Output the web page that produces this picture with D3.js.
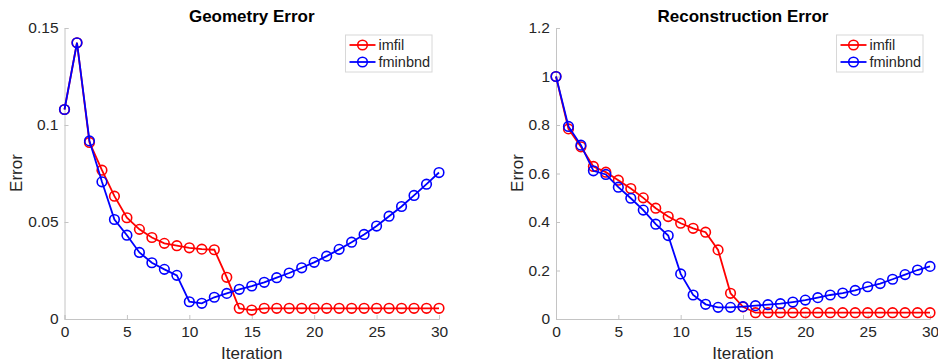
<!DOCTYPE html>
<html><head><meta charset="utf-8">
<script src="https://cdn.jsdelivr.net/npm/d3@7"></script>
<style>body{margin:0;background:#fff}svg{display:block}text{font-family:"Liberation Sans",Arial,Helvetica,sans-serif}</style>
</head><body>
<svg id="c" width="938" height="362"></svg>
<script>
const iterations = d3.range(0, 31);
const geomImfil = [0.108,0.1424,0.091,0.0767,0.0633,0.0522,0.0462,0.042,0.039,0.0378,0.0367,0.036,0.0357,0.0215,0.0055,0.0046,0.0055,0.0055,0.0055,0.0055,0.0055,0.0055,0.0055,0.0055,0.0055,0.0055,0.0055,0.0055,0.0055,0.0055,0.0055];
const geomFminbnd = [0.108,0.1424,0.0918,0.0707,0.0513,0.0432,0.0343,0.029,0.0256,0.0225,0.0089,0.0081,0.0112,0.0132,0.0153,0.017,0.0189,0.0213,0.0237,0.0264,0.0292,0.0324,0.0359,0.0396,0.0436,0.0479,0.053,0.058,0.0637,0.0695,0.0755];
const reconImfil = [1.0,0.784,0.71,0.629,0.6055,0.5725,0.538,0.4995,0.457,0.4225,0.395,0.374,0.358,0.285,0.106,0.05,0.026,0.026,0.026,0.026,0.026,0.026,0.026,0.026,0.026,0.026,0.026,0.026,0.026,0.026,0.026];
const reconFminbnd = [1.0,0.794,0.717,0.611,0.596,0.5436,0.498,0.449,0.391,0.344,0.186,0.099,0.0605,0.048,0.048,0.051,0.055,0.059,0.063,0.07,0.078,0.088,0.099,0.107,0.118,0.133,0.146,0.164,0.183,0.202,0.217];
const xTicks = [0,5,10,15,20,25,30];
const geomTicks = [0,0.05,0.1,0.15];
const reconTicks = [0,0.2,0.4,0.6,0.8,1,1.2];
const seriesNames = ["imfil","fminbnd"];
const seriesColors = ["#ff0000","#0000ff"];

const svg = d3.select("#c");
const axisColor = "#c4c4c4", textColor = "#262626";

function panel(o) {
  const g = svg.append("g");
  const x = d3.scaleLinear().domain([0,30]).range([o.x0, o.x1]);
  const y = d3.scaleLinear().domain([0, o.ymax]).range([319, 28]);
  const xa = d3.axisBottom(x).tickValues(xTicks).tickSize(-4).tickPadding(6).tickFormat(d3.format("d"));
  const ya = d3.axisLeft(y).tickValues(o.ticks).tickSize(-4).tickPadding(6).tickFormat(d => d === 0 ? "0" : String(+d.toFixed(2)));
  const gx = g.append("g").attr("transform", `translate(0,319)`).call(xa);
  const gy = g.append("g").attr("transform", `translate(${o.x0},0)`).call(ya);
  [gx, gy].forEach(a => {
    a.select(".domain").attr("stroke", axisColor).attr("stroke-width", 1);
    a.selectAll(".tick line").attr("stroke", axisColor);
    a.selectAll(".tick text").attr("fill", textColor).attr("font-size", 15.5);
  });
  gx.selectAll(".tick text").attr("dy", "0.8em");
  const cx = (o.x0 + o.x1) / 2;
  g.append("text").attr("x", cx).attr("y", 22).attr("text-anchor","middle").attr("font-weight","bold").attr("font-size",17).attr("fill","#000").text(o.title);
  g.append("text").attr("x", cx).attr("y", 359).attr("text-anchor","middle").attr("font-size",17).attr("fill",textColor).text("Iteration");
  g.append("text").attr("transform", `translate(${o.ylabX},173) rotate(-90)`).attr("text-anchor","middle").attr("font-size",17).attr("fill",textColor).text("Error");
  const line = d3.line().x((d,i) => x(iterations[i])).y(d => y(d));
  o.series.forEach((s, k) => {
    g.append("path").datum(s).attr("d", line).attr("fill","none").attr("stroke", seriesColors[k]).attr("stroke-width", 1.8);
    g.selectAll(null).data(s).enter().append("circle")
      .attr("cx", (d,i) => x(iterations[i])).attr("cy", d => y(d)).attr("r", 4.8)
      .attr("fill","none").attr("stroke", seriesColors[k]).attr("stroke-width", 1.6);
  });
  const lx = o.x1 - 93.5, ly = 35;
  g.append("rect").attr("x", lx).attr("y", ly).attr("width", 86.5).attr("height", 37).attr("fill","#fff").attr("stroke","#d8d8d8").attr("stroke-width",1);
  seriesNames.forEach((n, k) => {
    const yy = ly + 10 + k * 17;
    g.append("line").attr("x1", lx + 4).attr("x2", lx + 30).attr("y1", yy).attr("y2", yy).attr("stroke", seriesColors[k]).attr("stroke-width", 1.8);
    g.append("circle").attr("cx", lx + 17).attr("cy", yy).attr("r", 4.8).attr("fill","none").attr("stroke", seriesColors[k]).attr("stroke-width", 1.6);
    g.append("text").attr("x", lx + 33).attr("y", yy).attr("dy","0.35em").attr("font-size",14.5).attr("fill",textColor).text(n);
  });
}

panel({x0: 64.5, x1: 439, ymax: 0.15, ticks: geomTicks, title: "Geometry Error", ylabX: 22, series: [geomImfil, geomFminbnd]});
panel({x0: 556, x1: 930, ymax: 1.2, ticks: reconTicks, title: "Reconstruction Error", ylabX: 523, series: [reconImfil, reconFminbnd]});
</script>
</body></html>
